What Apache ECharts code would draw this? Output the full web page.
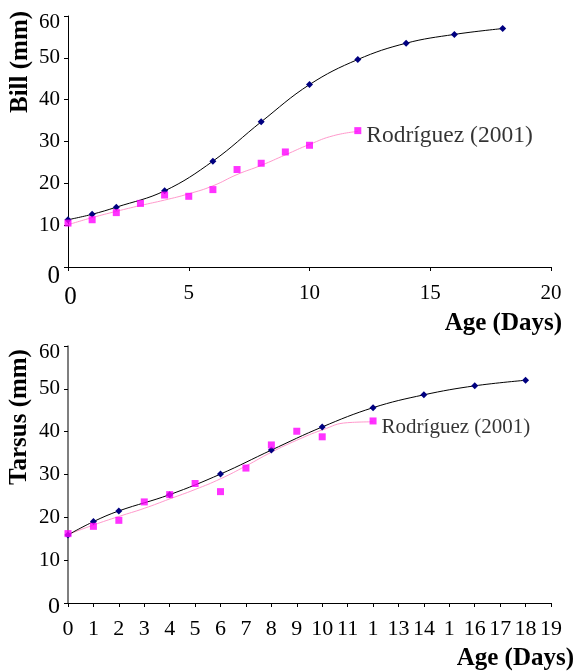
<!DOCTYPE html>
<html>
<head>
<meta charset="utf-8">
<script src="https://cdn.jsdelivr.net/npm/echarts@6/dist/echarts.min.js"></script>
<style>
html,body{margin:0;padding:0;background:#fff;}
#chart{width:576px;height:672px;}
</style>
</head>
<body>
<div id="chart"></div>
<script>
// ---- Data ----
const billAges = [0, 1, 2, 4, 6, 8, 10, 12, 14, 16, 18];
const billValues = [11.3, 12.6, 14.3, 18.2, 25.3, 34.7, 43.6, 49.6, 53.5, 55.6, 57.0];
const billRodAges = [0, 1, 2, 3, 4, 5, 6, 7, 8, 9, 10, 12];
const billRodValues = [10.5, 11.3, 13.0, 15.2, 17.2, 16.9, 18.5, 23.3, 24.8, 27.5, 29.1, 32.6];
const billTrendAges = [0, 1, 2, 3, 4, 5, 6, 7, 8, 9, 10, 11, 12];
const billTrendValues = [10.1, 11.8, 13.3, 14.7, 16.0, 17.5, 19.4, 22.1, 24.3, 26.8, 29.3, 31.4, 32.4];

const tarsusAges = [0, 1, 2, 4, 6, 8, 10, 12, 14, 16, 18];
const tarsusValues = [15.9, 19.0, 21.5, 25.3, 30.1, 35.7, 41.1, 45.6, 48.6, 50.7, 52.0];
const tarsusRodAges = [0, 1, 2, 3, 4, 5, 6, 7, 8, 9, 10, 12];
const tarsusRodValues = [16.2, 17.9, 19.3, 23.6, 25.3, 27.9, 26.0, 31.5, 36.9, 40.1, 38.8, 42.5];
const tarsusTrendAges = [0, 1, 2, 3, 4, 5, 6, 7, 8, 9, 10, 11, 12];
const tarsusTrendValues = [16.0, 18.2, 20.2, 22.1, 24.3, 26.5, 29.0, 32.0, 35.2, 38.0, 40.4, 42.1, 42.3];

const rodLabel = 'Rodríguez (2001)';
const billTitle = 'Bill (mm)';
const tarsusTitle = 'Tarsus (mm)';
const ageTitle = 'Age (Days)';
const billXTicks = ['0', '5', '10', '15', '20'];
const tarsusXTicks = ['0','1','2','3','4','5','6','7','8','9','10','11','1','13','14','1','16','17','18','19'];
const yTicks = ['0', '10', '20', '30', '40', '50', '60'];

// ---- Chart ----
const FONT = '"Liberation Serif", "Times New Roman", serif';
const zip = (xs, ys) => xs.map((x, i) => [x, ys[i]]);

const axisLineStyle = { lineStyle: { color: '#000', width: 1 } };
const tickStyle = { show: true, inside: false, length: 4, lineStyle: { color: '#000' } };

function yLabel(big, pad0) {
  return {
    fontFamily: FONT, fontSize: 21, color: '#000', margin: 8,
    formatter: v => {
      const s = yTicks[Math.round(v / 10)];
      if (v === 0) return '{z|' + s + '}';
      if (v === 60) return '{t|' + s + '}';
      return s;
    },
    rich: {
      z: { fontFamily: FONT, fontSize: big, color: '#000', padding: [pad0, 0, 0, 0] },
      t: { fontFamily: FONT, fontSize: 21, color: '#000', padding: [12, 0, 0, 0] }
    }
  };
}

const chart = echarts.init(document.getElementById('chart'), null, { renderer: 'canvas' });
chart.setOption({
  backgroundColor: '#fff',
  animation: false,
  grid: [
    { left: 68, right: 25, top: 16, height: 251, containLabel: false },
    { left: 68, right: 25, top: 346, height: 257, containLabel: false }
  ],
  xAxis: [
    {
      gridIndex: 0, type: 'value', min: 0, max: 20, interval: 5,
      axisLine: axisLineStyle, axisTick: tickStyle, splitLine: { show: false },
      axisLabel: {
        fontFamily: FONT, fontSize: 21, color: '#000', margin: 16,
        formatter: v => {
          const s = billXTicks[Math.round(v / 5)];
          return v === 0 ? '{z|' + s + '}' : s;
        },
        rich: { z: { fontFamily: FONT, fontSize: 25, color: '#000', padding: [2, 0, 0, 5] } }
      }
    },
    {
      gridIndex: 1, type: 'value', min: 0, max: 19, interval: 1,
      axisLine: axisLineStyle, axisTick: tickStyle, splitLine: { show: false },
      axisLabel: {
        fontFamily: FONT, fontSize: 22, color: '#000', margin: 15,
        formatter: v => tarsusXTicks[Math.round(v)]
      }
    }
  ],
  yAxis: [
    {
      gridIndex: 0, type: 'value', min: 0, max: 60, interval: 10,
      axisLine: { show: true, lineStyle: { color: '#000', width: 1 } },
      axisTick: tickStyle, splitLine: { show: false },
      axisLabel: yLabel(25, 18)
    },
    {
      gridIndex: 1, type: 'value', min: 0, max: 60, interval: 10,
      axisLine: { show: true, lineStyle: { color: '#555', width: 1.5 } },
      axisTick: tickStyle, splitLine: { show: false },
      axisLabel: yLabel(24, 7)
    }
  ],
  series: [
    {
      type: 'line', xAxisIndex: 0, yAxisIndex: 0, smooth: 0.5, showSymbol: false,
      data: zip(billTrendAges, billTrendValues),
      lineStyle: { color: '#FF99CC', width: 1 }, z: 2
    },
    {
      type: 'line', xAxisIndex: 0, yAxisIndex: 0, smooth: 0.4,
      data: zip(billAges, billValues),
      symbol: 'diamond', symbolSize: 7,
      itemStyle: { color: '#000080' },
      lineStyle: { color: '#000', width: 1 }, z: 3
    },
    {
      type: 'scatter', xAxisIndex: 0, yAxisIndex: 0,
      data: zip(billRodAges, billRodValues),
      symbol: 'rect', symbolSize: 7,
      itemStyle: { color: '#FF00FF' }, z: 4,
      label: {
        show: true, position: 'right', distance: 5, offset: [0, 5],
        fontFamily: FONT, fontSize: 23.5, color: '#000',
        formatter: p => p.dataIndex === billRodAges.length - 1 ? rodLabel : ''
      }
    },
    {
      type: 'line', xAxisIndex: 1, yAxisIndex: 1, smooth: 0.5, showSymbol: false,
      data: zip(tarsusTrendAges, tarsusTrendValues),
      lineStyle: { color: '#FF99CC', width: 1 }, z: 2
    },
    {
      type: 'line', xAxisIndex: 1, yAxisIndex: 1, smooth: 0.4,
      data: zip(tarsusAges, tarsusValues),
      symbol: 'diamond', symbolSize: 7,
      itemStyle: { color: '#000080' },
      lineStyle: { color: '#000', width: 1 }, z: 3
    },
    {
      type: 'scatter', xAxisIndex: 1, yAxisIndex: 1,
      data: zip(tarsusRodAges, tarsusRodValues),
      symbol: 'rect', symbolSize: 7,
      itemStyle: { color: '#FF00FF' }, z: 4,
      label: {
        show: true, position: 'right', distance: 5, offset: [0, 7],
        fontFamily: FONT, fontSize: 21, color: '#000',
        formatter: p => p.dataIndex === tarsusRodAges.length - 1 ? rodLabel : ''
      }
    }
  ],
  graphic: [
    {
      type: 'text', x: 21, y: 62, rotation: Math.PI / 2,
      style: { text: billTitle, font: 'bold 25px ' + FONT, fill: '#000', align: 'center', verticalAlign: 'middle' }
    },
    {
      type: 'text', x: 20, y: 417, rotation: Math.PI / 2,
      style: { text: tarsusTitle, font: 'bold 25px ' + FONT, fill: '#000', align: 'center', verticalAlign: 'middle' }
    },
    {
      type: 'text', x: 562, y: 324,
      style: { text: ageTitle, font: 'bold 25px ' + FONT, fill: '#000', align: 'right', verticalAlign: 'middle' }
    },
    {
      type: 'text', x: 574, y: 659,
      style: { text: ageTitle, font: 'bold 25px ' + FONT, fill: '#000', align: 'right', verticalAlign: 'middle' }
    }
  ]
});
</script>
</body>
</html>
